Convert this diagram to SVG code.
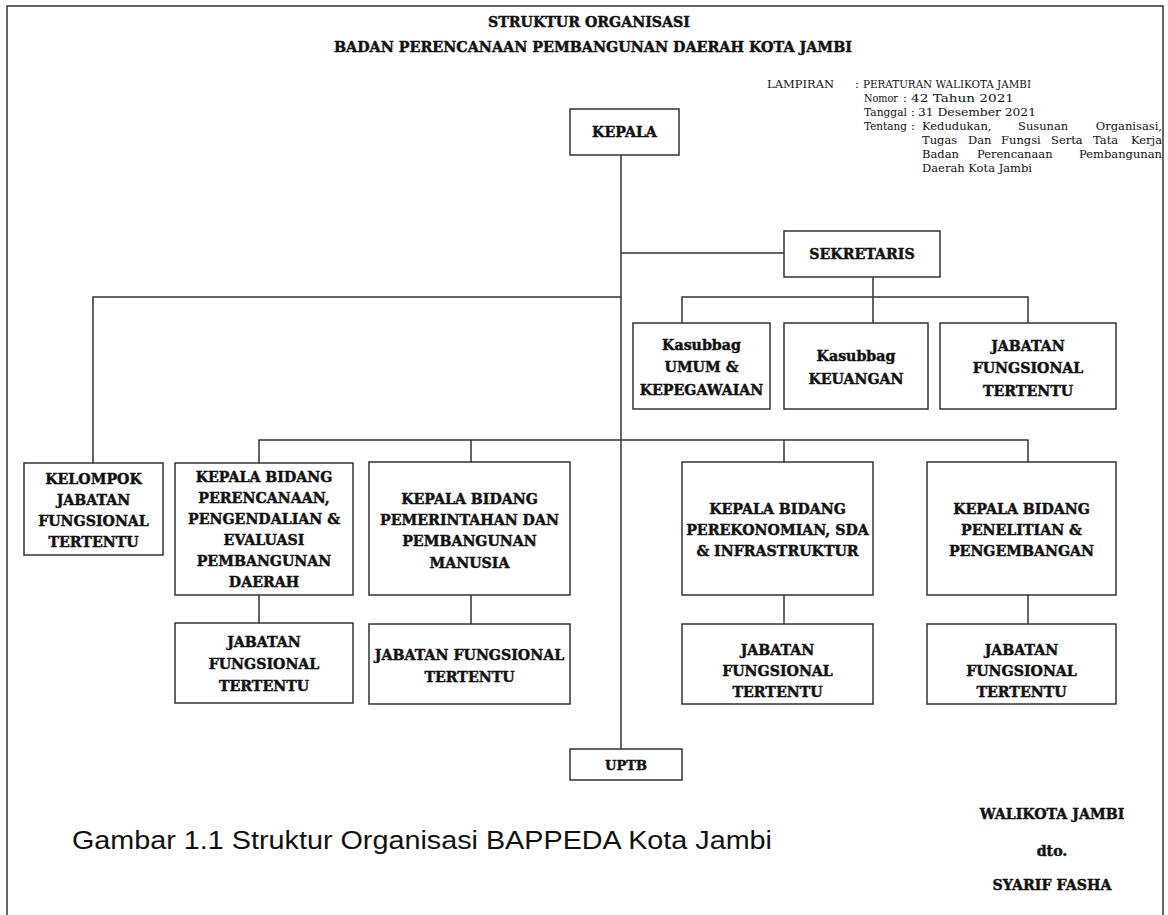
<svg xmlns="http://www.w3.org/2000/svg" width="1168" height="915" viewBox="0 0 1168 915">
<style>
.frame{fill:none;stroke:#333;stroke-width:1.5}
.box{fill:#fff;stroke:#333;stroke-width:1.5}
.ln{fill:none;stroke:#333;stroke-width:1.5}
.b{font-family:"DejaVu Serif","Liberation Serif",serif;font-weight:bold;font-size:14.2px;fill:#111;stroke:#111;stroke-width:0.45;text-anchor:middle}
.t{font-size:14.5px}
.u{font-size:13px}
.r{font-family:"DejaVu Serif","Liberation Serif",serif;font-size:11.5px;fill:#111}
.e{text-anchor:end}
.cap{font-family:"Liberation Sans",Arial,sans-serif;font-size:25px;fill:#111}
</style>
<rect width="1168" height="915" fill="#fff"/>
<path class="frame" d="M7,915 V6 H1163 V915"/>
<g id="header">
<text class="b t" x="589" y="27" textLength="202" lengthAdjust="spacingAndGlyphs">STRUKTUR ORGANISASI</text>
<text class="b t" x="593" y="52" textLength="518" lengthAdjust="spacingAndGlyphs">BADAN PERENCANAAN PEMBANGUNAN DAERAH KOTA JAMBI</text>
</g>
<g id="lampiran">
<text class="r" x="767" y="88">LAMPIRAN</text>
<text class="r" x="855" y="88">:</text>
<text class="r" x="863" y="88" textLength="168" lengthAdjust="spacingAndGlyphs">PERATURAN WALIKOTA JAMBI</text>
<text class="r" x="864" y="102" textLength="34" lengthAdjust="spacingAndGlyphs">Nomor</text>
<text class="r" x="903" y="102">:</text>
<text class="r" x="911" y="102" textLength="103" lengthAdjust="spacingAndGlyphs">42 Tahun 2021</text>
<text class="r" x="864" y="116" textLength="43" lengthAdjust="spacingAndGlyphs">Tanggal</text>
<text class="r" x="911" y="116">:</text>
<text class="r" x="918" y="116" textLength="118" lengthAdjust="spacingAndGlyphs">31 Desember 2021</text>
<text class="r" x="864" y="130" textLength="43" lengthAdjust="spacingAndGlyphs">Tentang</text>
<text class="r" x="911" y="130">:</text>
<text class="r" x="922" y="130">Kedudukan,</text>
<text class="r" x="1018" y="130">Susunan</text>
<text class="r e" x="1162" y="130">Organisasi,</text>
<text class="r" x="922" y="144">Tugas</text>
<text class="r" x="968" y="144">Dan</text>
<text class="r" x="1001" y="144">Fungsi</text>
<text class="r" x="1051" y="144">Serta</text>
<text class="r" x="1093" y="144">Tata</text>
<text class="r e" x="1162" y="144">Kerja</text>
<text class="r" x="922" y="158">Badan</text>
<text class="r" x="977" y="158">Perencanaan</text>
<text class="r e" x="1162" y="158">Pembangunan</text>
<text class="r" x="922" y="172">Daerah Kota Jambi</text>
</g>
<g id="connectors">
<path class="ln" d="M621,155 V749"/>
<path class="ln" d="M621,253 H784"/>
<path class="ln" d="M93,463 V297 H621"/>
<path class="ln" d="M873,277 V323 M682,323 V297 H1028 V323"/>
<path class="ln" d="M259,463 V440 H1028 V462 M471,440 V462 M784,440 V462"/>
<path class="ln" d="M259,595 V623 M471,595 V624 M784,595 V624 M1028,595 V624"/>
</g>
<g id="kepala"><rect class="box" x="570" y="109" width="109" height="46"/><text class="b" x="624.5" y="137">KEPALA</text></g>
<g id="sekretaris"><rect class="box" x="784" y="231" width="156" height="46"/><text class="b" x="862" y="259">SEKRETARIS</text></g>
<g id="kasubbag-umum"><rect class="box" x="633" y="323" width="137" height="86"/>
<text class="b" x="701.5" y="350">Kasubbag</text><text class="b" x="701.5" y="372">UMUM &amp;</text><text class="b" x="701.5" y="395">KEPEGAWAIAN</text></g>
<g id="kasubbag-keuangan"><rect class="box" x="784" y="323" width="144" height="86"/>
<text class="b" x="856" y="361">Kasubbag</text><text class="b" x="856" y="384">KEUANGAN</text></g>
<g id="jft-sekretariat"><rect class="box" x="940" y="323" width="176" height="86"/>
<text class="b" x="1028" y="351">JABATAN</text><text class="b" x="1028" y="373">FUNGSIONAL</text><text class="b" x="1028" y="396">TERTENTU</text></g>
<g id="kelompok-jft"><rect class="box" x="24" y="463" width="139" height="92"/>
<text class="b" x="93.5" y="484">KELOMPOK</text><text class="b" x="93.5" y="505">JABATAN</text><text class="b" x="93.5" y="526">FUNGSIONAL</text><text class="b" x="93.5" y="547">TERTENTU</text></g>
<g id="bidang-perencanaan"><rect class="box" x="175" y="463" width="178" height="132"/>
<text class="b" x="264" y="482">KEPALA BIDANG</text><text class="b" x="264" y="503">PERENCANAAN,</text><text class="b" x="264" y="524">PENGENDALIAN &amp;</text><text class="b" x="264" y="545">EVALUASI</text><text class="b" x="264" y="566">PEMBANGUNAN</text><text class="b" x="264" y="587">DAERAH</text></g>
<g id="bidang-pemerintahan"><rect class="box" x="369" y="462" width="201" height="133"/>
<text class="b" x="469.5" y="504">KEPALA BIDANG</text><text class="b" x="469.5" y="525">PEMERINTAHAN DAN</text><text class="b" x="469.5" y="546">PEMBANGUNAN</text><text class="b" x="469.5" y="568">MANUSIA</text></g>
<g id="bidang-perekonomian"><rect class="box" x="682" y="462" width="191" height="133"/>
<text class="b" x="777.5" y="514">KEPALA BIDANG</text><text class="b" x="777.5" y="535">PEREKONOMIAN, SDA</text><text class="b" x="777.5" y="556">&amp; INFRASTRUKTUR</text></g>
<g id="bidang-penelitian"><rect class="box" x="927" y="462" width="189" height="133"/>
<text class="b" x="1021.5" y="514">KEPALA BIDANG</text><text class="b" x="1021.5" y="535">PENELITIAN &amp;</text><text class="b" x="1021.5" y="556">PENGEMBANGAN</text></g>
<g id="jft-perencanaan"><rect class="box" x="175" y="623" width="178" height="80"/>
<text class="b" x="264" y="647">JABATAN</text><text class="b" x="264" y="669">FUNGSIONAL</text><text class="b" x="264" y="691">TERTENTU</text></g>
<g id="jft-pemerintahan"><rect class="box" x="369" y="624" width="201" height="80"/>
<text class="b" x="469.5" y="660">JABATAN FUNGSIONAL</text><text class="b" x="469.5" y="682">TERTENTU</text></g>
<g id="jft-perekonomian"><rect class="box" x="682" y="624" width="191" height="80"/>
<text class="b" x="777.5" y="655">JABATAN</text><text class="b" x="777.5" y="676">FUNGSIONAL</text><text class="b" x="777.5" y="697">TERTENTU</text></g>
<g id="jft-penelitian"><rect class="box" x="927" y="624" width="189" height="80"/>
<text class="b" x="1021.5" y="655">JABATAN</text><text class="b" x="1021.5" y="676">FUNGSIONAL</text><text class="b" x="1021.5" y="697">TERTENTU</text></g>
<g id="uptb"><rect class="box" x="570" y="749" width="112" height="31"/><text class="b u" x="626" y="770">UPTB</text></g>
<g id="signature">
<text class="b" x="1052" y="819">WALIKOTA JAMBI</text>
<text class="b" x="1052" y="856">dto.</text>
<text class="b" x="1052" y="890">SYARIF FASHA</text>
</g>
<g id="caption"><text class="cap" x="72" y="849" textLength="700" lengthAdjust="spacingAndGlyphs">Gambar 1.1 Struktur Organisasi BAPPEDA Kota Jambi</text></g>
</svg>
